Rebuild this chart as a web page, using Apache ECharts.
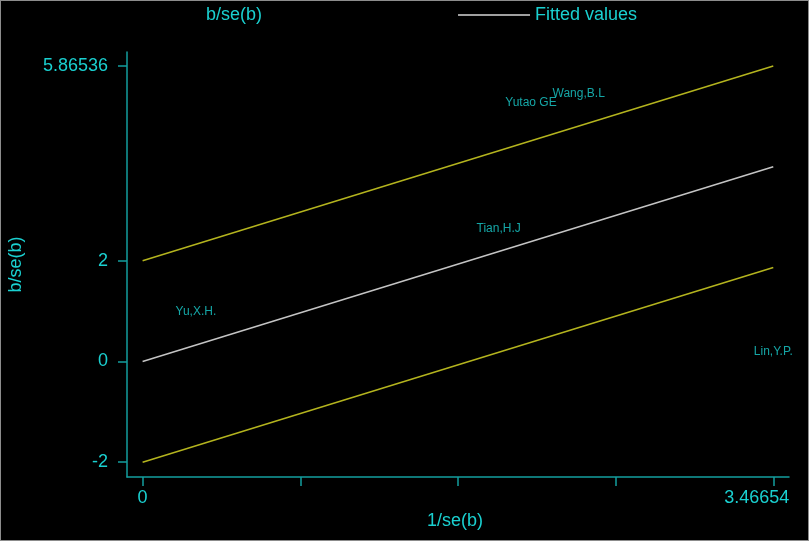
<!DOCTYPE html>
<html>
<head>
<meta charset="utf-8">
<script src="https://cdn.jsdelivr.net/npm/echarts@6/dist/echarts.min.js"></script>
<style>
html,body{margin:0;padding:0;background:#000;}
#c{width:809px;height:541px;background:#000;position:relative;}
#c::after{content:'';position:absolute;left:0;top:0;right:0;bottom:0;border:1px solid #8c8c8c;pointer-events:none;z-index:10;}
</style>
</head>
<body>
<div id="c"></div>
<script>
// Study points (1/se(b), b/se(b))
const studyNames = ['Yu,X.H.', 'Tian,H.J', 'Yutao GE', 'Wang,B.L', 'Lin,Y.P.'];
const precision = [0.293, 1.957, 2.135, 2.397, 3.46654];
const zScores = [0.986, 2.641, 5.139, 5.324, 0.203];
// Fitted line and ±2 bounds
const lineX = [0, 3.46654];
const fitted = [0, 3.86536];
const upper = [2, 5.86536];
const lower = [-2, 1.86536];
// Axis ticks
const yTicks = [-2, 0, 2, 5.86536];
const xTicks = [0, 0.866635, 1.73327, 2.599905, 3.46654];
const xLabels = [0, 3.46654];

const CYAN = '#1ad0d0';
const AXIS = '#139e9e';
const FONT = '"Liberation Sans", Arial, sans-serif';

const chart = echarts.init(document.getElementById('c'), null, {renderer: 'canvas'});
chart.setOption({
  backgroundColor: '#000',
  animation: false,
  textStyle: {fontFamily: FONT},
  legend: {
    left: 124, top: 1,
    itemWidth: 72, itemHeight: 2, itemGap: 196, itemTextGap: 6,
    textStyle: {color: CYAN, fontSize: 18, fontFamily: FONT},
    data: [
      {name: 'b/se(b)', icon: 'rect', itemStyle: {color: 'rgba(0,0,0,0)', borderWidth: 0}},
      {name: 'Fitted values', icon: 'rect', itemStyle: {color: '#a0a0a0', borderWidth: 0}}
    ]
  },
  grid: {left: 127, right: 20, top: 52, bottom: 64, containLabel: false, outerBoundsMode: 'none'},
  xAxis: {
    type: 'value', min: -0.0858, max: 3.553,
    name: '1/se(b)', nameLocation: 'middle', nameGap: 22,
    nameTextStyle: {color: CYAN, fontSize: 18, fontFamily: FONT, padding: [0, 6, 0, 0]},
    axisLine: {show: true, onZero: false, lineStyle: {color: AXIS, width: 1.5}},
    axisTick: {show: true, length: 9, customValues: xTicks, lineStyle: {color: AXIS, width: 1.5}},
    axisLabel: {
      color: CYAN, fontSize: 18, fontFamily: FONT, margin: 12,
      customValues: xLabels,
      formatter: v => v === 0 ? '0' : '{r|' + v + '}',
      rich: {r: {color: CYAN, fontSize: 18, fontFamily: FONT, padding: [0, 33, 0, 0]}}
    },
    splitLine: {show: false}
  },
  yAxis: {
    type: 'value', min: -2.293, max: 6.145,
    name: 'b/se(b)', nameLocation: 'middle', nameGap: 102,
    nameTextStyle: {color: CYAN, fontSize: 18, fontFamily: FONT},
    axisLine: {show: true, onZero: false, lineStyle: {color: AXIS, width: 1.5}},
    axisTick: {show: true, length: 9, customValues: yTicks, lineStyle: {color: AXIS, width: 1.5}},
    axisLabel: {color: CYAN, fontSize: 18, fontFamily: FONT, margin: 19, customValues: yTicks,
      padding: [4, 0, 0, 0],
      formatter: v => String(v)},
    splitLine: {show: false}
  },
  series: [
    {
      name: 'b/se(b)', type: 'scatter',
      data: precision.map((x, i) => ({value: [x, zScores[i]], name: studyNames[i]})),
      symbolSize: 1,
      itemStyle: {color: 'rgba(0,0,0,0)'},
      label: {show: true, position: 'inside', formatter: p => p.name,
        color: CYAN, fontSize: 12, fontFamily: FONT},
      z: 5
    },
    {
      name: 'upper', type: 'line', symbol: 'none',
      data: lineX.map((x, i) => [x, upper[i]]),
      lineStyle: {color: '#b4b41e', width: 1.5}
    },
    {
      name: 'Fitted values', type: 'line', symbol: 'none',
      data: lineX.map((x, i) => [x, fitted[i]]),
      lineStyle: {color: '#c4c4c4', width: 1.5},
      itemStyle: {color: '#a0a0a0'}
    },
    {
      name: 'lower', type: 'line', symbol: 'none',
      data: lineX.map((x, i) => [x, lower[i]]),
      lineStyle: {color: '#b4b41e', width: 1.5}
    }
  ]
});
</script>
</body>
</html>
